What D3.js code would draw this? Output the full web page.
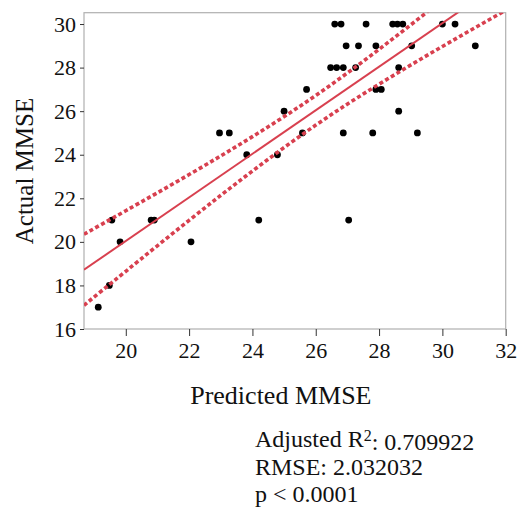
<!DOCTYPE html>
<html>
<head>
<meta charset="utf-8">
<script src="https://cdn.jsdelivr.net/npm/d3@7"></script>
<style>
  html, body { margin: 0; padding: 0; background: #fff; }
  svg { display: block; }
  svg text { font-family: "Liberation Serif", "Times New Roman", Times, serif !important; fill: #111; }
</style>
</head>
<body>
<svg id="chart" width="523" height="510" font-family="Liberation Serif, serif"></svg>
<script>
// ---- data ----
const predicted = [
  26.6, 26.8, 27.59, 28.43, 28.58, 28.75, 30.0, 30.4,
  26.96, 27.35, 27.9, 29.03, 31.04,
  26.47, 26.66, 26.87, 27.26, 28.62,
  25.71, 27.9, 28.07,
  25.0, 28.62,
  22.96, 23.27, 25.58, 26.87, 27.8, 29.21,
  23.82, 24.79,
  19.56, 20.8, 20.9, 24.2, 27.04,
  19.82, 22.06,
  19.48,
  19.13
];
const actual = [
  30, 30, 30, 30, 30, 30, 30, 30,
  29, 29, 29, 29, 29,
  28, 28, 28, 28, 28,
  27, 27, 27,
  26, 26,
  25, 25, 25, 25, 25, 25,
  24, 24,
  21, 21, 21, 21, 21,
  20, 20,
  18,
  17
];
// fitted line (endpoints) and confidence band samples
const fitX = [18.68, 32];
const fitY = [18.72, 32.04];
const bandX = [18.68, 20, 22, 24, 26, 28, 30, 32];
const bandUpper = [20.35, 21.43, 23.09, 24.83, 26.72, 28.84, 31.11, 33.45];
const bandLower = [17.09, 18.65, 20.99, 23.25, 25.36, 27.24, 28.97, 30.63];

const xTicks = [20, 22, 24, 26, 28, 30, 32];
const yTicks = [16, 18, 20, 22, 24, 26, 28, 30];
const statLines = ["RMSE: 2.032032", "p < 0.0001"];

// ---- layout ----
const svg = d3.select("#chart");
const L = 84, R = 505.7, T = 12.7, B = 329;
const x = d3.scaleLinear().domain([18.68, 32]).range([L, R]);
const y = d3.scaleLinear().domain([16, 30.52]).range([B, T]);
const red = "#d8404f";
const serif = "Liberation Serif, Times New Roman, serif";

svg.append("defs").append("clipPath").attr("id", "plotclip")
  .append("rect").attr("x", L).attr("y", T).attr("width", R - L).attr("height", B - T);

// frame
svg.append("rect").attr("x", L).attr("y", T).attr("width", R - L).attr("height", B - T)
  .attr("fill", "none").attr("stroke", "#b0b0b0").attr("stroke-width", 1.2);

// axes
const gx = svg.append("g").attr("transform", `translate(0,${B})`)
  .call(d3.axisBottom(x).tickValues(xTicks).tickSize(7).tickPadding(5).tickFormat(d3.format("d")))
  .attr("font-family", serif).attr("font-size", 22);
gx.select(".domain").remove();
gx.selectAll(".tick line").attr("stroke", "#333").attr("stroke-width", 1);
gx.selectAll(".tick text").attr("fill", "#111").attr("dy", "0.78em");

const gy = svg.append("g").attr("transform", `translate(${L},0)`)
  .call(d3.axisLeft(y).tickValues(yTicks).tickSize(4).tickPadding(4).tickFormat(d3.format("d")))
  .attr("font-family", serif).attr("font-size", 22);
gy.select(".domain").remove();
gy.selectAll(".tick line").attr("stroke", "#333").attr("stroke-width", 1);
gy.selectAll(".tick text").attr("fill", "#111");

// points
const plot = svg.append("g").attr("clip-path", "url(#plotclip)");
plot.selectAll("circle").data(predicted.map((p, i) => [p, actual[i]]))
  .enter().append("circle")
  .attr("cx", d => x(d[0])).attr("cy", d => y(d[1])).attr("r", 3.4)
  .attr("fill", "#000");

// fit line
plot.append("path")
  .datum(fitX.map((v, i) => [v, fitY[i]]))
  .attr("d", d3.line().x(d => x(d[0])).y(d => y(d[1])))
  .attr("fill", "none").attr("stroke", red).attr("stroke-width", 2);

// confidence bands
const bandLine = d3.line().curve(d3.curveNatural).x(d => x(d[0])).y(d => y(d[1]));
[bandUpper, bandLower].forEach(arr => {
  plot.append("path")
    .datum(bandX.map((v, i) => [v, arr[i]]))
    .attr("d", bandLine)
    .attr("fill", "none").attr("stroke", red).attr("stroke-width", 3.6)
    .attr("stroke-dasharray", "4,2.6");
});

// axis titles
svg.append("text").attr("x", (L + R) / 2 - 14).attr("y", 404)
  .attr("text-anchor", "middle").attr("font-size", 26).text("Predicted MMSE");
svg.append("text").attr("transform", "translate(33,171) rotate(-90)")
  .attr("text-anchor", "middle").attr("font-size", 25).text("Actual MMSE");

// stats
const st = svg.append("text").attr("x", 255).attr("y", 447).attr("font-size", 24);
st.append("tspan").text("Adjusted R");
st.append("tspan").attr("dy", "-0.4em").attr("font-size", 16).text("2");
st.append("tspan").attr("dy", "0.4em").text(": 0.709922");
statLines.forEach((s, i) => {
  svg.append("text").attr("x", 255).attr("y", 475 + i * 27).attr("font-size", 24).text(s);
});
</script>
</body>
</html>
